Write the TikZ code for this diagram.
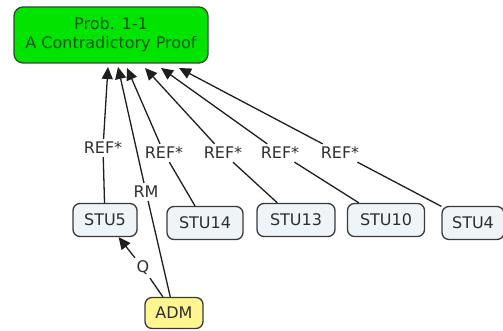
\documentclass[tikz,border=0pt]{standalone}
\usepackage{fontspec}
\setmainfont{DejaVu Sans}
\usetikzlibrary{arrows.meta}
\definecolor{topfill}{HTML}{00E400}
\definecolor{toptext}{HTML}{0A5A0A}
\definecolor{topline}{HTML}{2E4A2E}
\definecolor{stufill}{HTML}{EEF4F7}
\definecolor{admfill}{HTML}{FFF68F}
\definecolor{boxline}{HTML}{3A3A3A}
\definecolor{txt}{HTML}{2E2E2E}
\definecolor{lnc}{HTML}{1E1E1E}
\begin{document}
\begin{tikzpicture}[x=1pt,y=-1pt,
  box/.style={draw=boxline, line width=1.3pt, rounded corners=7pt, fill=stufill,
    text=txt, font=\fontsize{16}{18}\selectfont, minimum height=33pt,
    inner xsep=4pt, inner ysep=0pt},
  topbox/.style={box, fill=topfill, draw=topline, text=toptext, rounded corners=9pt,
    align=center, font=\fontsize{16}{19}\selectfont},
  admbox/.style={box, fill=admfill},
  lab/.style={text=txt, font=\fontsize{16}{18}\selectfont, inner sep=3pt},
  conn/.style={draw=lnc, line width=1.3pt},
  arr/.style={conn, -{Triangle[length=12pt,width=11pt]}}]
\useasboundingbox (0,0) rectangle (503,331);

% nodes
\node[topbox, minimum width=194pt, minimum height=56pt] (top) at (111,35)
  {Prob. 1-1\\A Contradictory Proof};
\node[box, minimum width=64pt] (stu5)  at (105,220) {STU5};
\node[box, minimum width=76pt] (stu14) at (205,223) {STU14};
\node[box, minimum width=78pt] (stu13) at (296,220) {STU13};
\node[box, minimum width=77pt] (stu10) at (386,220) {STU10};
\node[box, minimum width=62pt] (stu4)  at (473,223) {STU4};
\node[admbox, minimum width=58pt, minimum height=31pt] (adm) at (174,313) {ADM};

% labels
\node[lab] (l1) at (103,148) {REF*};
\node[lab] (l2) at (164,153) {REF*};
\node[lab] (l3) at (223,153) {REF*};
\node[lab] (l4) at (280,153) {REF*};
\node[lab] (l5) at (340,153) {REF*};
\node[lab] (lrm) at (146,192) {RM};
\node[lab] (lq) at (143,268) {Q};

% arrow tips on the top node
\coordinate (t1) at (108,67);
\coordinate (t2) at (118,67);
\coordinate (t3) at (127,68);
\coordinate (t4) at (145,68);
\coordinate (t5) at (161,68);
\coordinate (t6) at (179,68);

% connectors
\draw[conn] (stu5) -- (l1);   \draw[arr] (l1) -- (t1);
\draw[conn] (adm) -- (lrm);   \draw[arr] (lrm) -- (t2);
\draw[conn] (stu14) -- (l2);  \draw[arr] (l2) -- (t3);
\draw[conn] (stu13) -- (l3);  \draw[arr] (l3) -- (t4);
\draw[conn] (stu10) -- (l4);  \draw[arr] (l4) -- (t5);
\draw[conn] (stu4) -- (l5);   \draw[arr] (l5) -- (t6);
\draw[conn] (adm) -- (lq);    \draw[arr] (lq) -- (stu5);
\end{tikzpicture}
\end{document}
